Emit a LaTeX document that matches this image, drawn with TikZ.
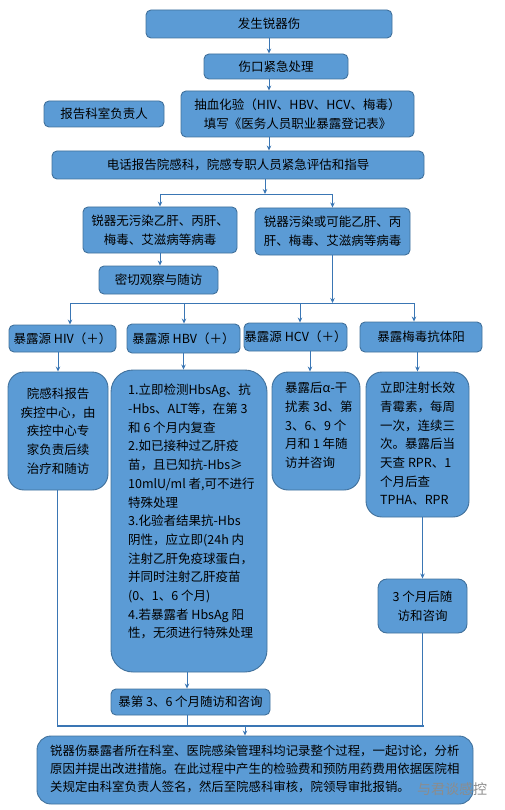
\documentclass[tikz,border=0pt]{standalone}
\usepackage{fontspec}
\newfontfamily\cjk{Noto Sans CJK SC}
\usetikzlibrary{arrows.meta,calc}
\definecolor{boxfill}{HTML}{5B9BD5}
\definecolor{boxline}{HTML}{41719C}
\definecolor{conn}{HTML}{3A76B4}
\begin{document}
\begin{tikzpicture}[x=1pt,y=-1pt,
  box/.style={draw=boxline, fill=boxfill, line width=0.9pt, rounded corners=5pt, inner sep=0pt, align=center, font=\cjk\fontsize{12.5}{18.7}\selectfont},
  bigbox/.style={box, rounded corners=16pt},
  txt/.style={inner sep=0pt, align=left, font=\cjk\fontsize{12.5}{18.7}\selectfont},
  arr/.style={draw=conn, line width=0.9pt, -{Stealth[length=5pt,width=4.5pt]}},
  ln/.style={draw=conn, line width=0.9pt},
  barline/.style={draw=conn, line width=1.8pt}]
\useasboundingbox (0,0) rectangle (505,810);

% top chain
\node[box, minimum width=246pt, minimum height=28pt] (n1) at (269,24) {发生锐器伤};
\node[box, minimum width=144pt, minimum height=25pt] (n2) at (276,66.5) {伤口紧急处理};
\node[box, minimum width=120pt, minimum height=26pt] (rep) at (104,114) {报告科室负责人};
\node[box, minimum width=233pt, minimum height=46pt] (n3) at (297.5,114) {抽血化验（HIV、HBV、HCV、梅毒）\\填写《医务人员职业暴露登记表》};
\node[box, minimum width=372pt, minimum height=28pt] (n4) at (238,165) {电话报告院感科，院感专职人员紧急评估和指导};

\draw[arr] (n1.south) -- (n1.south |- n2.north);
\draw[arr] (n2.south -| n1.south) -- (n1.south |- n3.north);
\draw[arr] (n3.south -| n1.south) -- (n1.south |- n4.north);

% split
\node[box, minimum width=154pt, minimum height=46pt] (nA) at (160,230) {锐器无污染乙肝、丙肝、\\梅毒、艾滋病等病毒};
\node[box, minimum width=155pt, minimum height=47pt] (nB) at (332.5,231.5) {锐器污染或可能乙肝、丙\\肝、梅毒、艾滋病等病毒};
\node[box, minimum width=119pt, minimum height=28pt] (nC) at (158.5,280) {密切观察与随访};

\coordinate (sp) at (265,194);
\draw[arr] (n4.south -| sp) -- (sp);
\draw[ln] (nA.north |- sp) -- (nB.north |- sp);
\draw[arr] (nA.north |- sp) -- (nA.north);
\draw[arr] (nB.north |- sp) -- (nB.north);
\draw[arr] (nA.south) -- (nA.south |- nC.north);

% four sources
\node[box, minimum width=107pt, minimum height=27pt] (hiv) at (62.5,338.5) {暴露源 HIV（＋）};
\node[box, minimum width=113pt, minimum height=29pt] (hbv) at (183.5,338.5) {暴露源 HBV（＋）};
\node[box, minimum width=103pt, minimum height=28pt] (hcv) at (295.5,337) {暴露源 HCV（＋）};
\node[box, minimum width=122pt, minimum height=30pt] (syp) at (421,337) {暴露梅毒抗体阳};

\coordinate (d1) at (70,303);
\coordinate (d2) at (184,303);
\coordinate (d3) at (300,303);
\coordinate (d4) at (414,303);
\draw[arr] (nB.south) -- (nB.south |- d3);
\draw[ln] (d1) -- (d4);
\draw[arr] (d1) -- (d1 |- hiv.north);
\draw[arr] (d2) -- (d2 |- hbv.north);
\draw[arr] (d3) -- (d3 |- hcv.north);
\draw[arr] (d4) -- (d4 |- syp.north);

% detail boxes
\node[bigbox, minimum width=100pt, minimum height=118pt] (hivd) at (58,431) {院感科报告\\疾控中心，由\\疾控中心专\\家负责后续\\治疗和随访};

\node[bigbox, rounded corners=22pt, minimum width=156pt, minimum height=302pt] (hbvd) at (189,521) {};
\node[txt, anchor=north west] (hbvdt) at (128,384) {1.立即检测HbsAg、抗\\-Hbs、ALT等，在第 3\\和 6 个月内复查\\2.如已接种过乙肝疫\\苗，且已知抗-Hbs≥\\10mlU/ml 者,可不进行\\特殊处理\\3.化验者结果抗-Hbs\\阴性，应立即(24h 内\\注射乙肝免疫球蛋白，\\并同时注射乙肝疫苗\\(0、1、6 个月)\\4.若暴露者 HbsAg 阳\\性，无须进行特殊处理};

\node[bigbox, minimum width=88pt, minimum height=118pt] (hcvd) at (316,431) {};
\node[txt, anchor=north west] (hcvdt) at (285,382) {暴露后α-干\\扰素 3d、第\\3、6、9 个\\月和 1 年随\\访并咨询};

\node[bigbox, minimum width=103pt, minimum height=145pt] (sypd) at (417.5,444.5) {};
\node[txt, anchor=north west] (sypdt) at (380,382) {立即注射长效\\青霉素，每周\\一次，连续三\\次。暴露后当\\天查 RPR、1\\个月后查\\TPHA、RPR};

\node[box, rounded corners=9pt, minimum width=89pt, minimum height=54pt] (s3) at (422.5,606) {3 个月后随\\访和咨询};
\node[box, minimum width=159pt, minimum height=26pt] (hbv36) at (190.5,702) {暴第 3、6 个月随访和咨询};

\draw[arr] (hivd.north |- hiv.south) -- (hivd.north);
\draw[arr] (hbv.south) -- (hbv.south |- hbvd.north);
\draw[arr] ([xshift=-6pt]hcvd.north |- hcv.south) -- ([xshift=-6pt]hcvd.north);
\draw[arr] (sypd.north |- syp.south) -- (sypd.north);
\draw[arr] (s3.north |- sypd.south) -- (s3.north);
\draw[arr] ([xshift=-2pt]hbvd.south) -- ([xshift=-2pt]hbvd.south |- hbv36.north);

% bottom collector
\coordinate (bl) at (57,726);
\coordinate (br) at (424,726);
\coordinate (m3) at (245,726);
\draw[ln] ([xshift=-1pt]hivd.south) -- ([xshift=-1pt]hivd.south |- bl);
\draw[ln] ([xshift=-3pt]hbv36.south) -- ([xshift=-3pt]hbv36.south |- bl);
\draw[ln] (s3.south) -- (s3.south |- bl);
\draw[barline] (bl) -- (br);

\node[box, rounded corners=14pt, minimum width=436pt, minimum height=68pt] (fin) at (255,770) {};
\node[txt, anchor=north west, font=\cjk\fontsize{12.4}{18}\selectfont] (fint) at (50,745) {锐器伤暴露者所在科室、医院感染管理科均记录整个过程，一起讨论，分析\\原因并提出改进措施。在此过程中产生的检验费和预防用药费用依据医院相\\关规定由科室负责人签名，然后至院感科审核，院领导审批报销。};
\draw[arr] (m3) -- (m3 |- fin.north);

\node[inner sep=0pt, text=black!45, font=\cjk\fontsize{14}{14}\selectfont] (wm) at (452,789) {与君谈感控};
\end{tikzpicture}
\end{document}
